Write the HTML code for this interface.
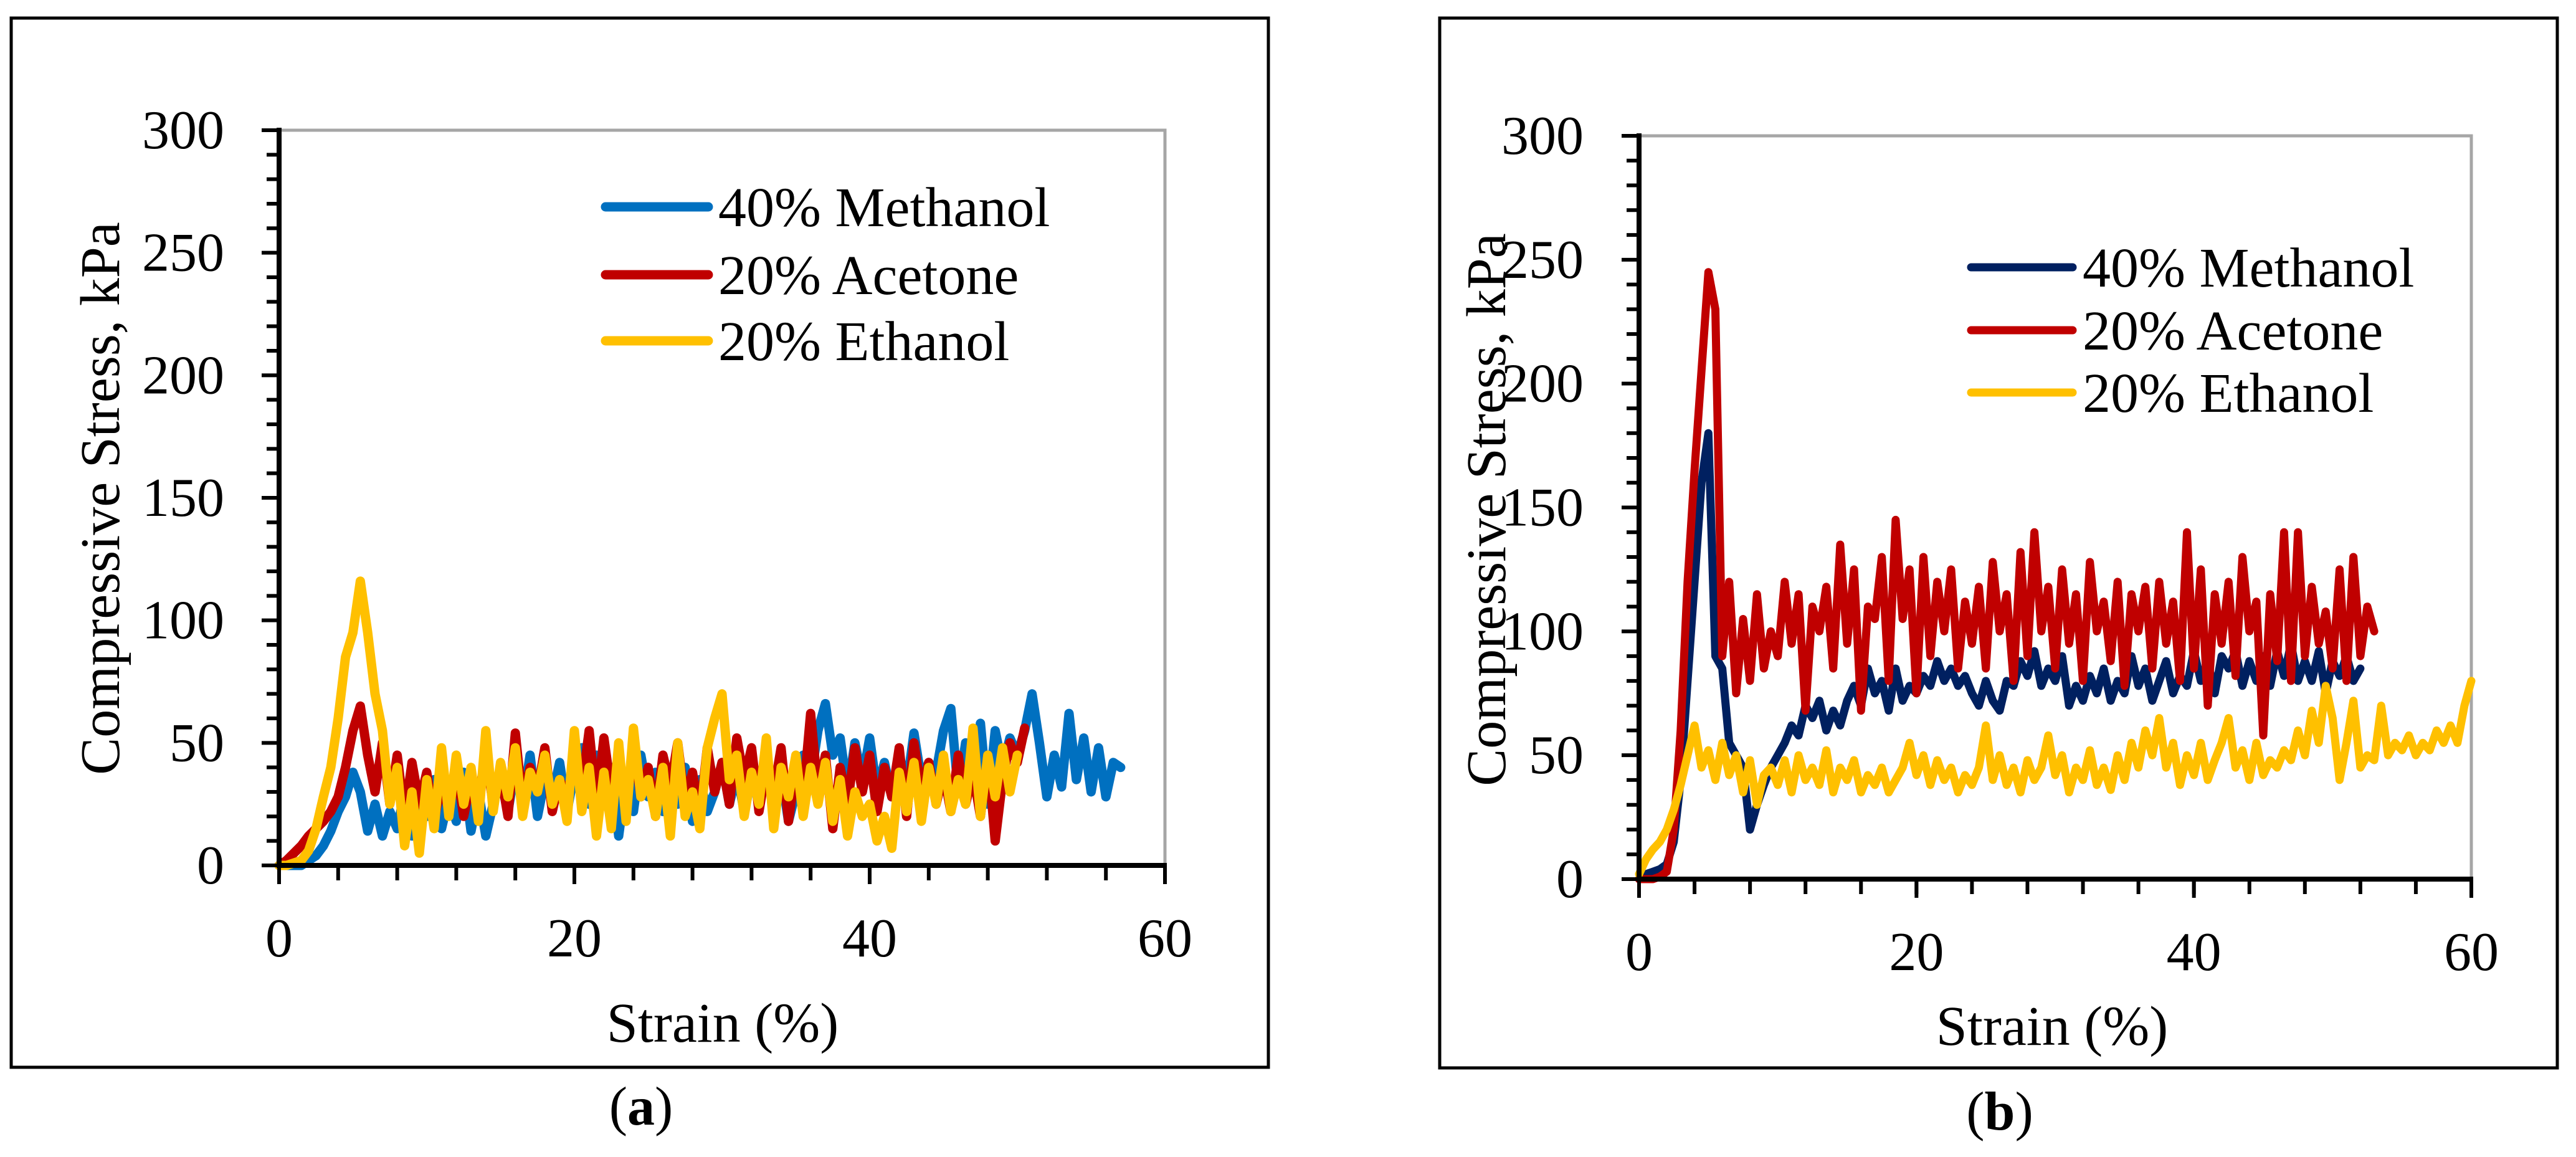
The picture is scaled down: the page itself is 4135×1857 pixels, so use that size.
<!DOCTYPE html>
<html><head><meta charset="utf-8"><style>
html,body{margin:0;padding:0;background:#fff;}
svg{display:block;}
text{font-family:"Liberation Serif",serif;fill:#000;}
</style></head><body>
<svg id="fig" width="4135" height="1857" viewBox="0 0 4135 1857" xmlns="http://www.w3.org/2000/svg">
<rect x="0" y="0" width="4135" height="1857" fill="#fff"/>
<rect x="18" y="29" width="2018" height="1684" fill="none" stroke="#000" stroke-width="5"/>
<rect x="2311" y="29" width="1794" height="1685" fill="none" stroke="#000" stroke-width="5"/>
<text x="1029" y="1805" font-size="88" text-anchor="middle">(<tspan font-weight="bold">a</tspan>)</text>
<text x="3210" y="1813" font-size="88" text-anchor="middle">(<tspan font-weight="bold">b</tspan>)</text>
</svg>
<script>
// shared strain grid (%)
const strainGrid = [0,0.5,1,1.5,2,2.5,3,3.5,4,4.5,5,5.5,6,6.5,7,7.5,8,8.5,9,9.5,10,10.5,11,11.5,12,12.5,13,13.5,14,14.5,15,15.5,16,16.5,17,17.5,18,18.5,19,19.5,20,20.5,21,21.5,22,22.5,23,23.5,24,24.5,25,25.5,26,26.5,27,27.5,28,28.5,29,29.5,30,30.5,31,31.5,32,32.5,33,33.5,34,34.5,35,35.5,36,36.5,37,37.5,38,38.5,39,39.5,40,40.5,41,41.5,42,42.5,43,43.5,44,44.5,45,45.5,46,46.5,47,47.5,48,48.5,49,49.5,50,50.5,51,51.5,52,52.5,53,53.5,54,54.5,55,55.5,56,56.5,57,57.5,58,58.5,59,59.5,60];
const xTickLabels = ["0","20","40","60"];
const xTickValues = [0,20,40,60];
const yTickLabels = ["0","50","100","150","200","250","300"];
const yTickValues = [0,50,100,150,200,250,300];
const seriesNames = ["40% Methanol","20% Acetone","20% Ethanol"];

// Panel (a) stress values, kPa
const aMethanol = [0,0,0,0,2,4,8,14,22,28,38,30,14,25,12,22,15,30,12,25,20,35,15,28,18,38,14,30,12,25,35,22,40,25,45,20,35,28,42,22,38,48,25,45,30,40,12,35,22,45,28,38,22,35,25,40,18,35,22,30,42,25,38,22,35,28,40,24,38,18,30,45,35,55,66,45,52,30,50,35,52,30,42,28,45,32,54,35,42,38,55,64,30,50,35,58,25,55,40,52,45,55,70,50,28,45,32,62,35,52,30,48,28,42,40];
const aAcetone = [0,2,5,8,12,15,18,22,28,40,55,65,45,30,50,25,45,20,42,25,38,18,35,22,40,20,35,28,45,25,38,20,54,25,40,30,48,22,35,28,42,32,55,25,52,30,45,22,50,28,40,20,45,32,50,25,38,20,48,30,42,25,52,35,48,22,40,30,48,18,40,28,62,30,45,15,40,25,48,30,45,22,40,28,48,20,50,30,42,25,38,22,45,25,38,20,45,10,35,50,42,56];
const aEthanol = [0,0,1,2,6,15,28,40,60,85,95,116,95,70,55,25,40,8,30,5,35,15,48,20,45,25,40,18,55,22,42,28,48,20,38,30,45,25,35,18,55,22,40,12,38,15,50,18,56,28,35,20,40,12,50,20,30,15,48,60,70,35,45,20,38,25,52,15,40,28,45,20,40,25,42,18,35,12,30,20,25,10,20,7,38,22,42,18,40,25,45,22,35,25,56,20,45,28,48,30,45];

// Panel (b) stress values, kPa
const bMethanol = [0,2,3,4,6,15,40,80,120,160,180,90,85,55,50,45,20,30,38,45,50,55,62,58,70,65,72,60,68,62,72,78,70,85,75,80,68,85,72,78,75,82,78,88,80,85,78,82,75,70,80,72,68,80,78,88,82,92,78,85,80,90,70,78,72,82,75,85,72,80,75,90,78,85,72,80,88,75,82,78,92,80,88,75,90,85,92,78,88,80,90,78,92,82,95,80,88,80,92,75,88,82,90,80,85];
const bAcetone = [0,0,0,1,3,20,60,120,165,205,245,230,90,120,75,105,80,115,85,100,90,120,95,115,68,110,100,118,85,135,95,125,68,110,105,130,80,145,105,125,75,130,90,120,100,125,85,112,95,118,85,128,100,115,80,132,90,140,100,118,85,125,95,115,80,128,100,112,88,120,78,115,100,118,85,120,95,112,80,140,85,125,70,115,95,120,82,130,100,112,58,115,88,140,80,140,90,118,95,108,85,125,80,130,90,110,100];
const bEthanol = [2,8,12,15,20,28,38,50,62,45,52,40,55,42,50,35,48,30,42,45,38,48,35,50,40,45,38,52,35,45,40,48,35,42,38,45,35,40,45,55,42,50,38,48,40,45,35,42,38,45,62,40,50,38,45,35,48,40,45,58,42,50,35,45,40,52,38,45,36,50,40,55,45,60,50,65,45,55,38,50,42,55,40,48,55,65,45,52,40,55,42,48,45,52,48,60,50,68,55,78,65,40,55,72,45,50,48,70,50,55,52,58,50,55,52,60,55,62,55,70,80];

const NS = "http://www.w3.org/2000/svg";
const svg = document.getElementById("fig");
function mk(tag, attrs, parent){
  const e = document.createElementNS(NS, tag);
  for (const k in attrs) e.setAttribute(k, attrs[k]);
  (parent||svg).appendChild(e);
  return e;
}

function drawPanel(p){
  const g = mk("g", {});
  
  
  const sx = v => p.x0 + (v/60)*(p.x60 - p.x0);
  const sy = v => p.y0 - (v/300)*(p.y0 - p.y300);

  const border = mk("path", {d:`M${p.x0},${p.y300} L${p.x60},${p.y300} L${p.x60},${p.y0}`, fill:"none", stroke:"#a6a6a6", "stroke-width":5}, g);
  
  

  const series = [p.m, p.a, p.e];
  const colors = p.colors;
  const lineNames = ['methanol-line','acetone-line','ethanol-line'];
  for (let s = 0; s < 3; s++){
    const vals = series[s];
    let d = "";
    for (let i = 0; i < vals.length; i++){
      d += (i ? "L" : "M") + sx(strainGrid[i]).toFixed(1) + "," + sy(vals[i]).toFixed(1);
    }
    const path = mk("path", {d:d, fill:"none", stroke:colors[s], "stroke-width":p.lw, "stroke-linejoin":"round", "stroke-linecap":"round"}, g);
    
    
  }

  const ax = mk("g", {}, g);
  
  
  mk("line", {x1:p.x0, y1:p.y300-4, x2:p.x0, y2:p.y0+4, stroke:"#000", "stroke-width":8}, ax);
  mk("line", {x1:p.x0-4, y1:p.y0, x2:p.x60+3, y2:p.y0, stroke:"#000", "stroke-width":8}, ax);
  for (let v = 0; v <= 60; v += 4){
    mk("line", {x1:sx(v), y1:p.y0, x2:sx(v), y2:p.y0 + 24, stroke:"#000", "stroke-width":6}, ax);
  }
  for (let v = 0; v <= 60; v += 20){
    mk("line", {x1:sx(v), y1:p.y0, x2:sx(v), y2:p.y0 + 30, stroke:"#000", "stroke-width":6}, ax);
  }
  for (let v = 0; v <= 300; v += 10){
    const major = (v % 50 === 0);
    mk("line", {x1:p.x0 - (major ? 28 : 20), y1:sy(v), x2:p.x0, y2:sy(v), stroke:"#000", "stroke-width":6}, ax);
  }
  for (let i = 0; i < xTickValues.length; i++){
    const t = mk("text", {x:sx(xTickValues[i]), y:p.xLabelY, "font-size":88, "text-anchor":"middle"}, g);
    t.textContent = xTickLabels[i];
    
    
  }
  for (let i = 0; i < yTickValues.length; i++){
    const t = mk("text", {x:p.yLabelX, y:sy(yTickValues[i]) + 29, "font-size":88, "text-anchor":"end"}, g);
    t.textContent = yTickLabels[i];
    
    
  }
  const xt = mk("text", {x:p.xTitleX, y:p.xTitleY, "font-size":90, "text-anchor":"middle"}, g);
  xt.textContent = "Strain (%)";
  
  
  const yt = mk("text", {x:0, y:0, "font-size":90, "text-anchor":"middle", transform:`translate(${p.yTitleX},${p.yTitleY}) rotate(-90)`}, g);
  yt.textContent = "Compressive Stress, kPa";
  
  

  const lg = mk("g", {}, g);
  
  
  for (let s = 0; s < 3; s++){
    const ly = p.legY[s];
    const entry = mk("g", {}, lg);
    
    
    mk("line", {x1:p.legX1, y1:ly, x2:p.legX2, y2:ly, stroke:colors[s], "stroke-width":p.lw, "stroke-linecap":"round"}, entry);
    const t = mk("text", {x:p.legX2 + 16, y:ly + 31, "font-size":90}, entry);
    t.textContent = seriesNames[s];
  }
}

drawPanel({id:"panel-a", x0:448, x60:1870, y0:1389, y300:209,
  m:aMethanol, a:aAcetone, e:aEthanol, colors:["#0070C0","#C00000","#FFC000"], lw:15,
  xLabelY:1535, yLabelX:360, xTitleX:1160, xTitleY:1672, yTitleX:191, yTitleY:800,
  legX1:972, legX2:1137, legY:[332,441,547]});
drawPanel({id:"panel-b", x0:2631, x60:3967, y0:1411, y300:218,
  m:bMethanol, a:bAcetone, e:bEthanol, colors:["#002060","#C00000","#FFC000"], lw:13,
  xLabelY:1557, yLabelX:2542, xTitleX:3294, xTitleY:1677, yTitleX:2416, yTitleY:818,
  legX1:3164, legX2:3327, legY:[429,530,630]});
</script>
</body></html>
